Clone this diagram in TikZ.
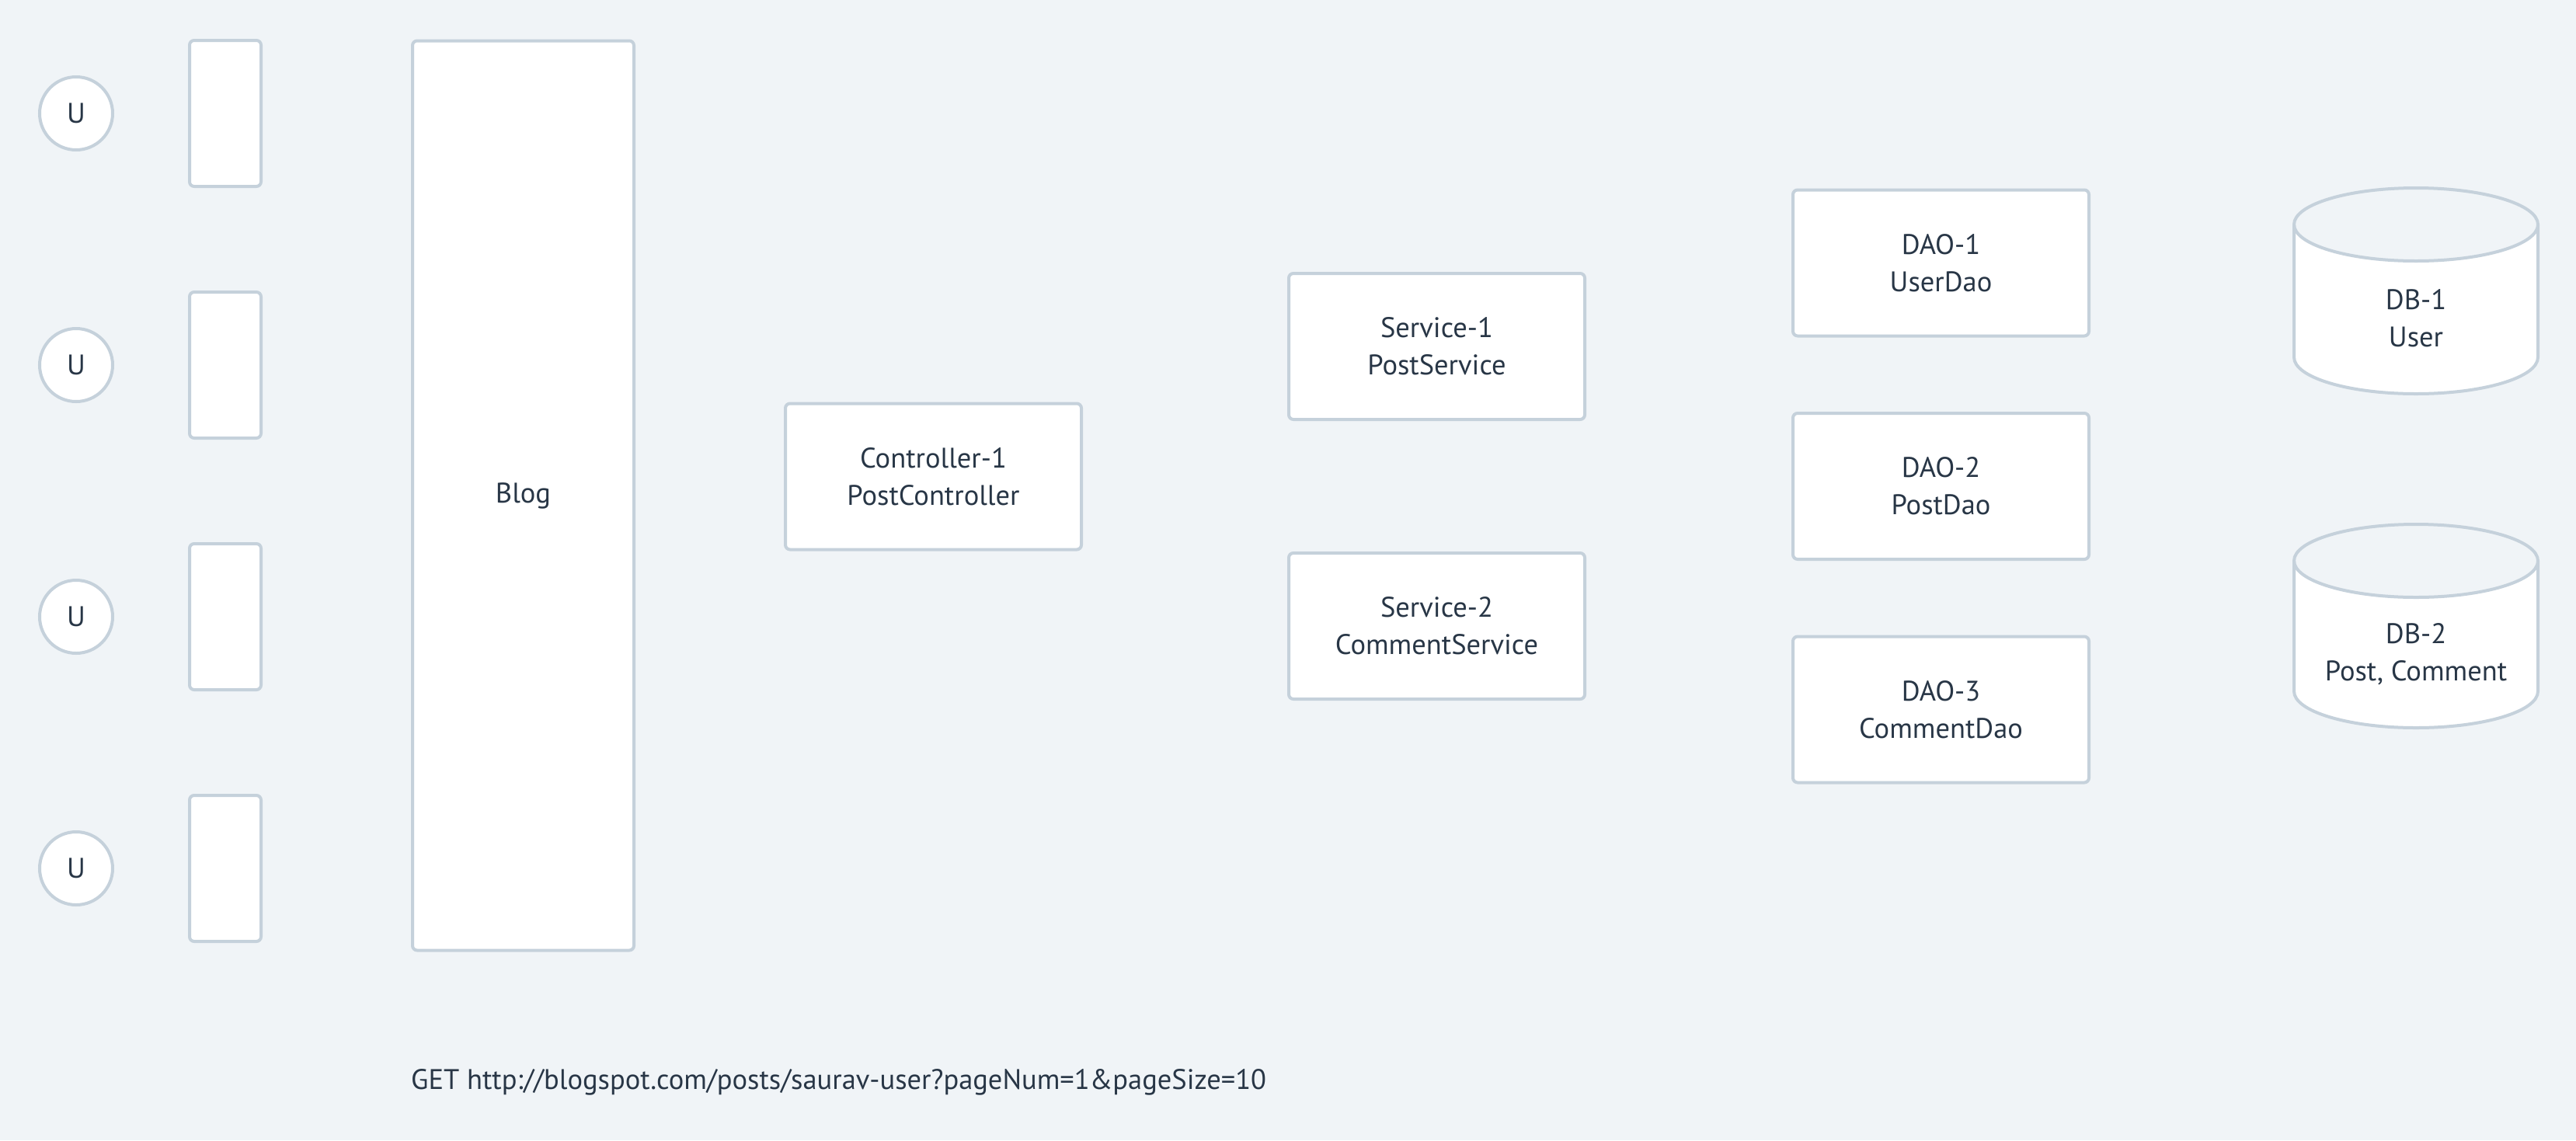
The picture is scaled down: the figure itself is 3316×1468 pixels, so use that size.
\documentclass[tikz,border=0pt]{standalone}
\usepackage{fontspec}
\setmainfont{PT Sans}
\definecolor{bgc}{RGB}{240,244,247}
\definecolor{edge}{RGB}{197,209,219}
\definecolor{ink}{RGB}{40,54,70}
\begin{document}
\begin{tikzpicture}[x=1pt,y=-1pt,
  base/.style={draw=edge,line width=4pt,fill=white,text=ink,font=\fontsize{36.5}{48}\selectfont,align=center,inner sep=0pt},
  user/.style={base,circle,minimum size=94pt},
  slot/.style={base,rectangle,rounded corners=6pt,minimum width=92pt,minimum height=188pt},
  comp/.style={base,rectangle,rounded corners=6pt,minimum width=381pt,minimum height=188pt},
  dbtext/.style={text=ink,font=\fontsize{36.5}{48}\selectfont,align=center,inner sep=0pt}]
\fill[bgc] (0,0) rectangle (3316,1468);
\useasboundingbox (0,0) rectangle (3316,1468);
% users
\node[user] (u1) at (98,146) {U};
\node[user] (u2) at (98,470) {U};
\node[user] (u3) at (98,794) {U};
\node[user] (u4) at (98,1118) {U};
% slots
\node[slot] (s1) at (290,146) {};
\node[slot] (s2) at (290,470) {};
\node[slot] (s3) at (290,794) {};
\node[slot] (s4) at (290,1118) {};
% blog
\node[base,rectangle,rounded corners=6pt,minimum width=285pt,minimum height=1171pt] (blog) at (673.5,638) {Blog};
% controller
\node[comp] (c1) at (1201.5,613.5) {Controller-1\\PostController};
% services
\node[comp] (sv1) at (1849.5,446) {Service-1\\PostService};
\node[comp] (sv2) at (1849.5,806) {Service-2\\CommentService};
% daos
\node[comp] (d1) at (2498.5,338.5) {DAO-1\\UserDao};
\node[comp] (d2) at (2498.5,626) {DAO-2\\PostDao};
\node[comp] (d3) at (2498.5,913.5) {DAO-3\\CommentDao};
% databases
\foreach \nm/\top/\bot in {db1/289/460, db2/722/890}{
  \fill[white] (2953,\top) -- (2953,\bot) arc (180:0:157 and 47) -- (3267,\top) arc (0:180:157 and 47) -- cycle;
  \draw[edge,line width=4pt] (2953,\top) -- (2953,\bot) arc (180:0:157 and 47) -- (3267,\top);
  \draw[edge,line width=4pt] (3110,\top) ellipse (157 and 47);
}
\node[dbtext] (db1) at (3110,410) {DB-1\\User};
\node[dbtext] (db2) at (3110,842) {DB-2\\Post, Comment};
% request
\node[text=ink,font=\fontsize{36.5}{48}\selectfont,anchor=west,inner sep=0pt] (req) at (529,1393) {GET http://blogspot.com/posts/saurav-user?pageNum=1\&pageSize=10};
\end{tikzpicture}
\end{document}
